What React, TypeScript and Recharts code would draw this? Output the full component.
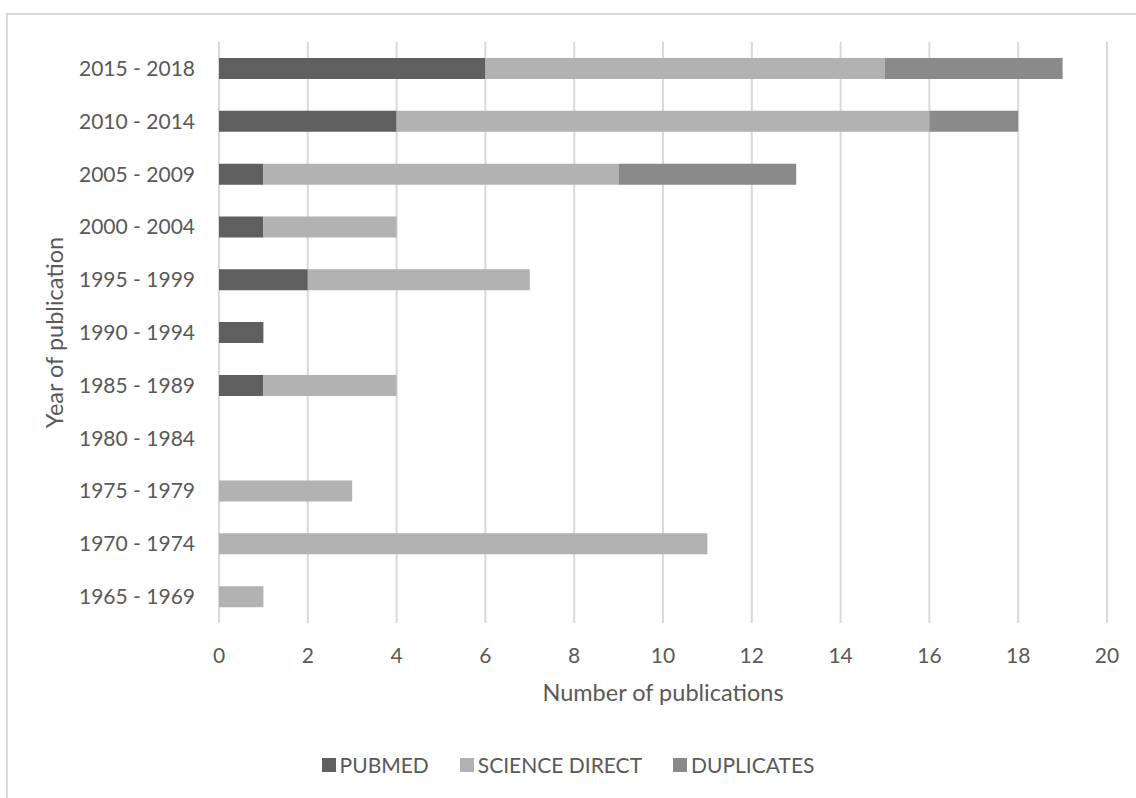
import { Bar, BarChart, CartesianGrid, Legend, XAxis, YAxis } from "recharts";

const periods = [
  "2015 - 2018",
  "2010 - 2014",
  "2005 - 2009",
  "2000 - 2004",
  "1995 - 1999",
  "1990 - 1994",
  "1985 - 1989",
  "1980 - 1984",
  "1975 - 1979",
  "1970 - 1974",
  "1965 - 1969",
];
const pubmed = [6, 4, 1, 1, 2, 1, 1, 0, 0, 0, 0];
const scienceDirect = [9, 12, 8, 3, 5, 0, 3, 0, 3, 11, 1];
const duplicates = [4, 2, 4, 0, 0, 0, 0, 0, 0, 0, 0];
const xTicks = [0, 2, 4, 6, 8, 10, 12, 14, 16, 18, 20];
const seriesNames = ["PUBMED", "SCIENCE DIRECT", "DUPLICATES"];

const data = periods.map((period, i) => ({
  period,
  pubmed: pubmed[i],
  scienceDirect: scienceDirect[i],
  duplicates: duplicates[i],
}));

const FONT = "Lato, 'Open Sans', sans-serif";
const TEXT = "#595959";

function LegendContent({ payload }: any) {
  const items = [...(payload || [])].sort(
    (a: any, b: any) => seriesNames.indexOf(a.value) - seriesNames.indexOf(b.value)
  );
  return (
    <div
      style={{
        display: "flex",
        justifyContent: "center",
        alignItems: "center",
        height: 30,
        lineHeight: "30px",
        fontFamily: FONT,
        fontSize: 21,
        color: TEXT,
      }}
    >
      {items.map((item: any, i: number) => (
        <div
          key={item.value}
          style={{ display: "flex", alignItems: "center", marginLeft: i === 0 ? 0 : 31 }}
        >
          <span
            style={{ display: "inline-block", width: 14, height: 14, background: item.color, marginRight: 4 }}
          />
          <span>{item.value}</span>
        </div>
      ))}
    </div>
  );
}

export default function App() {
  return (
    <div
      style={{
        position: "absolute",
        left: 0,
        top: 0,
        width: 1136,
        height: 798,
        overflow: "hidden",
        background: "#fff",
      }}
    >
      <div
        style={{
          position: "absolute",
          left: 6,
          top: 13,
          width: 1200,
          height: 900,
          border: "2px solid #d9d9d9",
        }}
      />
      <div style={{ position: "absolute", left: 0, top: 0 }}>
        <BarChart
          width={1136}
          height={798}
          data={data}
          layout="vertical"
          margin={{ top: 42, right: 29, bottom: 97, left: 0 }}
        >
          <CartesianGrid horizontal={false} stroke="#d9d9d9" strokeWidth={2} />
          <XAxis
            type="number"
            domain={[0, 20]}
            ticks={xTicks}
            interval={0}
            axisLine={false}
            tickLine={false}
            tickMargin={19}
            height={78}
            tick={{ fill: TEXT, fontSize: 21, fontFamily: FONT }}
            label={{
              value: "Number of publications",
              position: "insideBottom",
              offset: 0,
              fill: TEXT,
              fontSize: 23.5,
              fontFamily: FONT,
            }}
          />
          <YAxis
            type="category"
            dataKey="period"
            width={219}
            axisLine={false}
            tickLine={false}
            tickMargin={18}
            interval={0}
            tick={{ fill: TEXT, fontSize: 21, fontFamily: FONT }}
            label={{
              content: ({ viewBox }: any) => {
                const cy = viewBox.y + viewBox.height / 2;
                return (
                  <text
                    x={63}
                    y={cy}
                    transform={`rotate(-90, 63, ${cy})`}
                    textAnchor="middle"
                    fill={TEXT}
                    fontSize={23.5}
                    fontFamily={FONT}
                  >
                    Year of publication
                  </text>
                );
              },
            }}
          />
          <Legend
            verticalAlign="middle"
            align="center"
            layout="horizontal"
            content={<LegendContent />}
            wrapperStyle={{ top: 750, left: 0, width: 1136, bottom: "auto" }}
          />
          <Bar dataKey="pubmed" name="PUBMED" stackId="a" fill="#5f5f5f" barSize={21} isAnimationActive={false} />
          <Bar dataKey="scienceDirect" name="SCIENCE DIRECT" stackId="a" fill="#b2b2b2" barSize={21} isAnimationActive={false} />
          <Bar dataKey="duplicates" name="DUPLICATES" stackId="a" fill="#8a8a8a" barSize={21} isAnimationActive={false} />
        </BarChart>
      </div>
    </div>
  );
}
